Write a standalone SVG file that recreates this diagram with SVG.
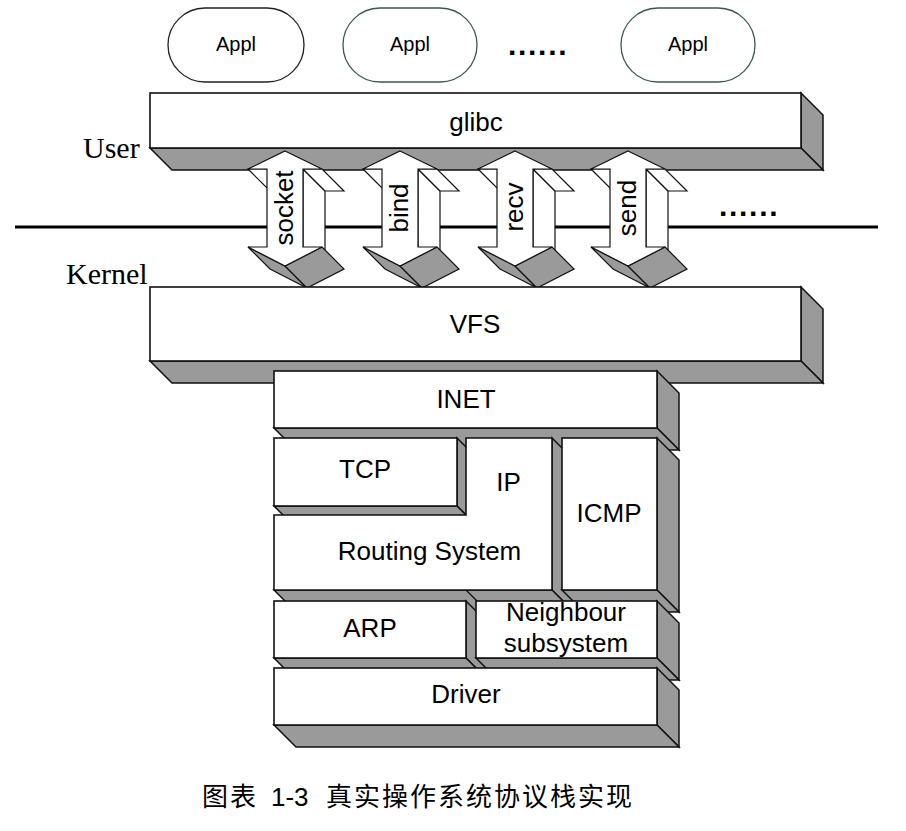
<svg xmlns="http://www.w3.org/2000/svg" xmlns:xlink="http://www.w3.org/1999/xlink" width="906" height="831" viewBox="0 0 906 831">
<style>
.bg{fill:#ffffff}
.face{fill:#9a9a9a;stroke:#111;stroke-width:1.5;stroke-linejoin:miter}
.front{fill:#ffffff;stroke:#111;stroke-width:1.6;stroke-linejoin:miter}
.wface{fill:#ffffff;stroke:#111;stroke-width:1.2}
.gface{fill:#9a9a9a;stroke:#111;stroke-width:1.2}
.afront{fill:#ffffff;stroke:#111;stroke-width:1.2}
.edge{fill:none;stroke:#111;stroke-width:1.2}
.pill{fill:#ffffff;stroke-width:1.3}
.lbl{font-family:"Liberation Sans",Arial,sans-serif;font-size:26px;text-anchor:middle;fill:#000}
.albl{font-family:"Liberation Sans",Arial,sans-serif;font-size:26px;text-anchor:middle;fill:#000}
.appl{font-family:"Liberation Sans",Arial,sans-serif;font-size:20px;text-anchor:middle;fill:#000}
.serif{font-family:"Liberation Serif","Times New Roman",serif;font-size:30px;fill:#000}
.dots{font-family:"Liberation Sans",Arial,sans-serif;font-size:30px;font-weight:bold;letter-spacing:1.7px;fill:#000}
.cap{font-family:"Noto Sans CJK SC","Liberation Sans",sans-serif;font-size:26px;letter-spacing:2px;fill:#000}
</style>
<defs>
<g id="sysarrow">
<polygon class="wface" points="18,169 40,191 40,269 18,247"/>
<polygon class="wface" points="18,169 37,169 59,191 40,191"/>
<polygon class="wface" points="-37,169 -18,169 4,191 -15,191"/>
<polygon class="gface" points="-37,247 0,266 22,288 -15,269"/>
<polygon class="gface" points="0,266 37,247 59,269 22,288"/>
<polygon class="afront" points="0,151 37,169 18,169 18,247 37,247 0,266 -37,247 -18,247 -18,169 -37,169"/>
</g>
</defs>
<rect class="bg" x="0" y="0" width="906" height="831"/>

<g id="appl-1">
<rect class="pill" x="168" y="8" width="136" height="74" rx="37" ry="37" stroke="#222"/>
<text class="appl" x="236" y="51">Appl</text>
</g>
<g id="appl-2">
<rect class="pill" x="343" y="8" width="134" height="74" rx="37" ry="37" stroke="#3d5a4a"/>
<text class="appl" x="410" y="51">Appl</text>
</g>
<g id="appl-dots">
<text class="dots" x="508" y="55">......</text>
</g>
<g id="appl-3">
<rect class="pill" x="621" y="8" width="134" height="74" rx="37" ry="37" stroke="#3d5a4a"/>
<text class="appl" x="688" y="51">Appl</text>
</g>

<g id="labels">
<text class="serif" x="83" y="158">User</text>
<text class="serif" x="66" y="284">Kernel</text>
</g>

<g id="boundary">
<line x1="15" y1="227" x2="878" y2="227" stroke="#000" stroke-width="3"/>
<text class="dots" x="719" y="216">......</text>
</g>

<g id="glibc">
<polygon class="face" points="801,93 823,115 823,170 801,148"/>
<polygon class="face" points="150,148 801,148 823,170 172,170"/>
<rect class="front" x="150" y="93" width="651" height="55"/>
<text class="lbl" x="476" y="131">glibc</text>
</g>

<g id="connectors">
<g id="arrow-socket">
<use xlink:href="#sysarrow" href="#sysarrow" transform="translate(285,0)"/>
<text class="albl" transform="translate(293,208) rotate(-90)">socket</text>
</g>
<g id="arrow-bind">
<use xlink:href="#sysarrow" href="#sysarrow" transform="translate(400,0)"/>
<text class="albl" transform="translate(408,208) rotate(-90)">bind</text>
</g>
<g id="arrow-recv">
<use xlink:href="#sysarrow" href="#sysarrow" transform="translate(515,0)"/>
<text class="albl" transform="translate(523,207) rotate(-90)">recv</text>
</g>
<g id="arrow-send">
<use xlink:href="#sysarrow" href="#sysarrow" transform="translate(628,0)"/>
<text class="albl" transform="translate(636,208) rotate(-90)">send</text>
</g>
</g>

<g id="vfs">
<polygon class="face" points="801,287 823,309 823,383 801,361"/>
<polygon class="face" points="150,361 801,361 823,383 172,383"/>
<rect class="front" x="150" y="287" width="651" height="74"/>
<text class="lbl" x="475" y="333">VFS</text>
</g>

<g id="inet">
<polygon class="face" points="657,371 679,393 679,450 657,428"/>
<polygon class="face" points="274,428 657,428 679,450 296,450"/>
<rect class="front" x="274" y="371" width="383" height="57"/>
<text class="lbl" x="466" y="408">INET</text>
</g>

<g id="tcp">
<polygon class="face" points="457,438 479,460 479,528 457,506"/>
<polygon class="face" points="274,506 457,506 479,528 296,528"/>
<rect class="front" x="274" y="438" width="183" height="68"/>
<text class="lbl" x="365" y="478">TCP</text>
</g>

<g id="ip-routing">
<polygon class="face" points="552,438 574,460 574,612 552,590"/>
<polygon class="face" points="274,590 552,590 574,612 296,612"/>
<line class="edge" x1="466" y1="590" x2="488" y2="612"/>
<polygon class="front" points="466,438 552,438 552,590 274,590 274,515 466,515"/>
<text class="lbl" x="508.5" y="491">IP</text>
<text class="lbl" x="429.5" y="560">Routing System</text>
</g>

<g id="icmp">
<polygon class="face" points="657,438 679,460 679,612 657,590"/>
<polygon class="face" points="562,590 657,590 679,612 584,612"/>
<rect class="front" x="562" y="438" width="95" height="152"/>
<text class="lbl" x="609" y="522">ICMP</text>
</g>

<g id="arp">
<polygon class="face" points="466,601 488,623 488,680 466,658"/>
<polygon class="face" points="274,658 466,658 488,680 296,680"/>
<rect class="front" x="274" y="601" width="192" height="57"/>
<text class="lbl" x="370" y="637">ARP</text>
</g>

<g id="neighbour">
<polygon class="face" points="657,601 679,623 679,680 657,658"/>
<polygon class="face" points="476,658 657,658 679,680 498,680"/>
<rect class="front" x="476" y="601" width="181" height="57"/>
<text class="lbl" x="566" y="621">Neighbour</text>
<text class="lbl" x="566" y="652">subsystem</text>
</g>

<g id="driver">
<polygon class="face" points="657,668 679,690 679,747 657,725"/>
<polygon class="face" points="274,725 657,725 679,747 296,747"/>
<rect class="front" x="274" y="668" width="383" height="57"/>
<text class="lbl" x="466" y="703">Driver</text>
</g>

<g id="caption">
<text class="cap" y="806"><tspan x="202">图表</tspan><tspan x="271" font-family="Liberation Sans, Arial, sans-serif" letter-spacing="0">1-3</tspan><tspan x="326">真实操作系统协议栈实现</tspan></text>
</g>
</svg>
